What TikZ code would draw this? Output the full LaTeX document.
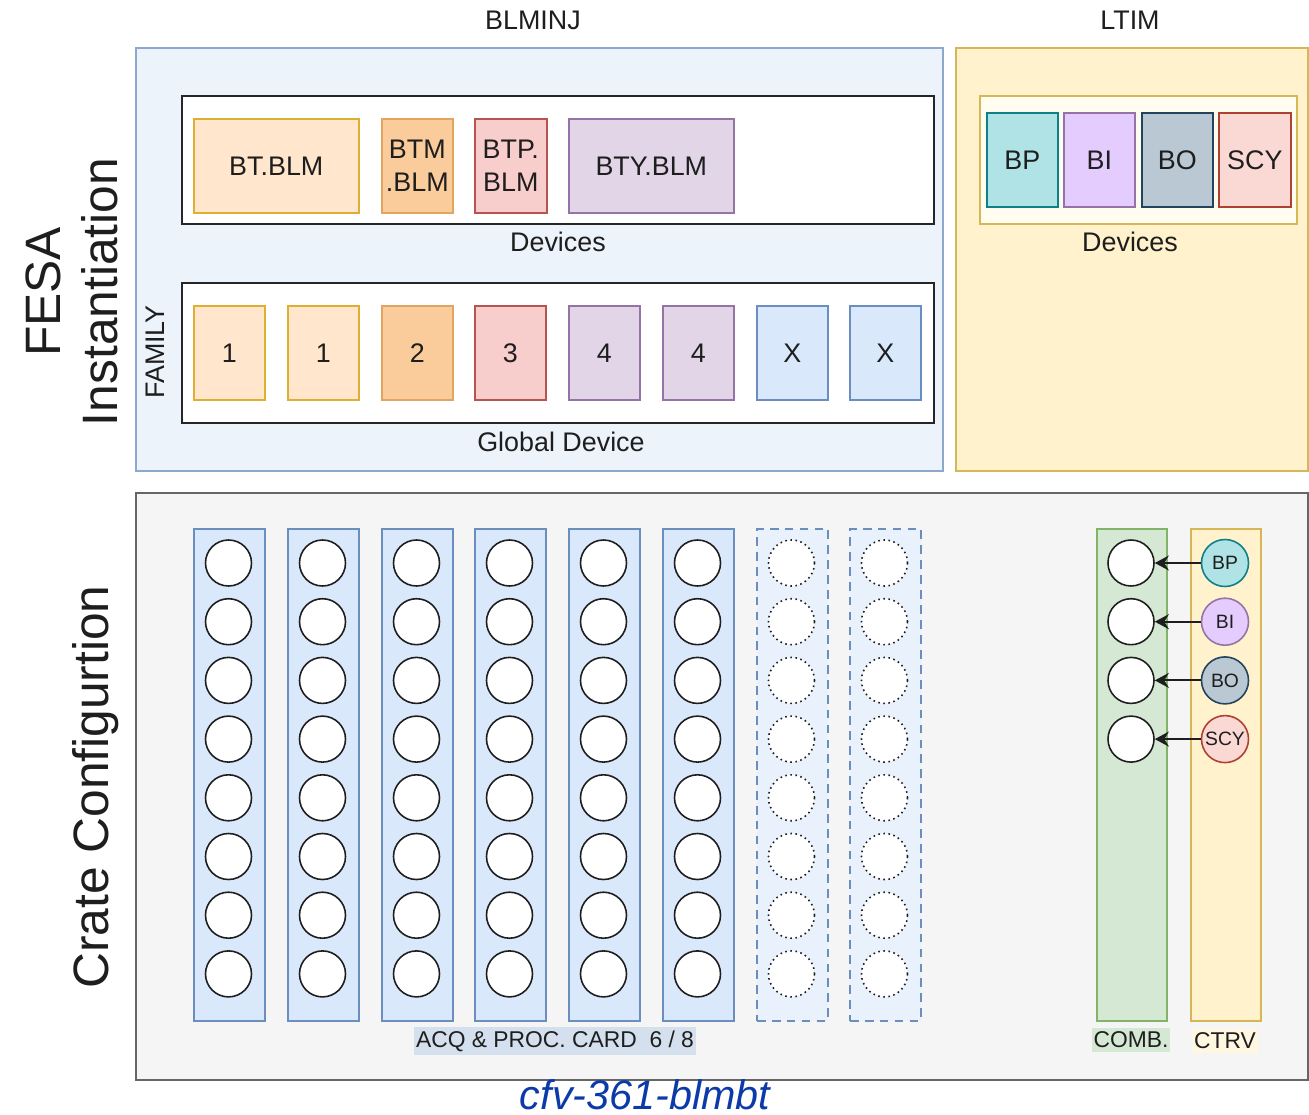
\documentclass[tikz,border=0pt]{standalone}
\usepackage{fontspec}
\setmainfont{Liberation Sans}
\definecolor{ink}{RGB}{30, 30, 30}
\definecolor{injfill}{RGB}{237, 243, 251}
\definecolor{injdraw}{RGB}{140, 168, 205}
\definecolor{ltimfill}{RGB}{255, 242, 204}
\definecolor{ltimdraw}{RGB}{214, 182, 86}
\definecolor{ltimbox}{RGB}{255, 252, 240}
\definecolor{cratefill}{RGB}{245, 245, 245}
\definecolor{cratedraw}{RGB}{102, 102, 102}
\definecolor{orangelt}{RGB}{255, 230, 204}
\definecolor{orangedr}{RGB}{215, 155, 0}
\definecolor{orangemd}{RGB}{250, 203, 155}
\definecolor{orangeln}{RGB}{225, 165, 95}
\definecolor{redfill}{RGB}{248, 206, 204}
\definecolor{reddraw}{RGB}{184, 84, 80}
\definecolor{purpfill}{RGB}{225, 213, 231}
\definecolor{purpdraw}{RGB}{150, 115, 166}
\definecolor{bluefill}{RGB}{218, 232, 252}
\definecolor{bluedraw}{RGB}{108, 142, 191}
\definecolor{greenfill}{RGB}{213, 232, 212}
\definecolor{greendraw}{RGB}{130, 179, 102}
\definecolor{bpfill}{RGB}{176, 227, 230}
\definecolor{bpdraw}{RGB}{14, 128, 136}
\definecolor{bifill}{RGB}{229, 204, 255}
\definecolor{bidraw}{RGB}{150, 115, 166}
\definecolor{bofill}{RGB}{186, 200, 211}
\definecolor{bodraw}{RGB}{35, 68, 93}
\definecolor{scyfill}{RGB}{250, 217, 213}
\definecolor{scydraw}{RGB}{174, 65, 50}
\definecolor{acqbg}{RGB}{212, 224, 238}
\definecolor{cfvblue}{RGB}{12, 58, 168}
\usepackage{tikz}
\usetikzlibrary{arrows.meta, positioning}
\newcommand{\px}{0.02cm}
\newcommand{\lblfont}{\fontsize{15.3}{18.7}\selectfont}
\newcommand{\capfont}{\fontsize{13}{15}\selectfont}
\newcommand{\sidefont}{\fontsize{28.3}{32}\selectfont}
\newcommand{\dotfont}{\fontsize{11}{12}\selectfont}
\tikzset{
  panel/.style={draw, anchor=north west, inner sep=0pt, line width=1.1pt},
  holder/.style={panel, fill=white, draw=black!85, line width=1.4pt, minimum width=752*\px},
  devnode/.style={draw, anchor=north west, inner sep=0pt, line width=0.9pt, minimum width=71*\px, minimum height=94*\px, font=\lblfont, text=ink, align=center},
  famA/.style={devnode, fill=orangelt, draw=orangedr!80},
  famB/.style={devnode, fill=orangemd, draw=orangeln},
  famC/.style={devnode, fill=redfill, draw=reddraw},
  famD/.style={devnode, fill=purpfill, draw=purpdraw},
  famX/.style={devnode, fill=bluefill, draw=bluedraw},
  card/.style={panel, fill=bluefill, draw=bluedraw, line width=0.9pt, minimum width=71*\px, minimum height=492*\px},
  sparecard/.style={card, fill=bluefill!60, dash pattern=on 5pt off 3.5pt},
  slot/.style={circle, draw=ink, fill=white, line width=0.9pt, minimum size=46*\px, inner sep=0pt},
  spareslot/.style={slot, dotted},
  tag/.style={font=\lblfont, text=ink},
  captag/.style={font=\capfont, text=ink, inner xsep=1pt, inner ysep=2pt},
  sidetag/.style={font=\sidefont, text=ink, rotate=90},
  timing/.style={circle, line width=0.9pt, minimum size=47*\px, inner sep=0pt, font=\dotfont, text=ink},
  feed/.style={-{Stealth[length=8pt, width=8.5pt]}, line width=1.2pt, ink},
}

\begin{document}
\begin{tikzpicture}[x=\px, y=-\px]
  \useasboundingbox (0,0) rectangle (1309,1115);
  \fill[white] (0,0) rectangle (1309,1115);

  \node[tag] (blminjlbl) at (533,20) {BLMINJ};
  \node[tag] (ltimlbl) at (1130,20) {LTIM};
  \node[sidetag] (fesa) at (43,292) {FESA};
  \node[sidetag] (instlbl) at (100,292) {Instantiation};
  \node[sidetag] (cratelbl) at (96,787) {Crate Configurtion};

  \node[panel, fill=injfill, draw=injdraw, minimum width=807*\px, minimum height=423*\px] (blminj) at (135,47) {};
  \node[panel, fill=ltimfill, draw=ltimdraw, minimum width=352*\px, minimum height=423*\px] (ltim) at (955,47) {};
  \node[panel, fill=cratefill, draw=cratedraw, minimum width=1172*\px, minimum height=587*\px] (crate) at (135,492) {};

  \node[holder, minimum height=128*\px] (devices) at (181,95) {};
  \node[tag] (deviceslbl) at (558,242) {Devices};
  \node[famA, minimum width=165*\px] (btblm) at (193,118) {BT.BLM};
  \node[famB] (btmblm) at (381,118) {BTM\\.BLM};
  \node[famC, minimum width=72*\px] (btpblm) at (474,118) {BTP.\\BLM};
  \node[famD, minimum width=165*\px] (btyblm) at (568,118) {BTY.BLM};

  \node[holder, minimum height=140*\px] (global) at (181,282) {};
  \node[tag] (globallbl) at (561,442) {Global Device};
  \node[tag, rotate=90] (family) at (155,352) {FAMILY};
  \foreach \xx/\fam/\txt [count=\i] in {193/famA/1, 287/famA/1, 381/famB/2, 474/famC/3, 568/famD/4, 662/famD/4, 756/famX/X, 849/famX/X}
    \node[\fam] (fam\i) at (\xx,305) {\txt};

  \node[panel, fill=ltimbox, draw=ltimdraw, line width=0.9pt, minimum width=317*\px, minimum height=128*\px] (ltimdev) at (979,95) {};
  \node[tag] (ltimdevlbl) at (1130,242) {Devices};
  \node[devnode, fill=bpfill, draw=bpdraw] (bp) at (986,112) {BP};
  \node[devnode, fill=bifill, draw=bidraw] (bi) at (1063,112) {BI};
  \node[devnode, fill=bofill, draw=bodraw] (bo) at (1141,112) {BO};
  \node[devnode, fill=scyfill, draw=scydraw, minimum width=72*\px] (scy) at (1218,112) {SCY};

  \foreach \xx [count=\c] in {193,287,381,474,568,662} {
    \node[card] (card\c) at (\xx,528) {};
    \foreach \k in {0,...,7}
      \node[slot] (slot\c-\k) at (\xx+35.5,563+58.7*\k) {};
  }
  \foreach \xx [count=\c] in {756,849} {
    \node[sparecard] (spare\c) at (\xx,528) {};
    \foreach \k in {0,...,7}
      \node[spareslot] (spareslot\c-\k) at (\xx+35.5,563+58.7*\k) {};
  }
  \node[captag, fill=acqbg] (acqlbl) at (555,1041) {ACQ \& PROC. CARD\ \ 6 / 8};

  \node[card, fill=greenfill, draw=greendraw, minimum width=70*\px] (comb) at (1096,528) {};
  \node[card, fill=ltimfill, draw=ltimdraw, minimum width=70*\px] (ctrv) at (1190,528) {};
  \node[captag, fill=greenfill] (comblbl) at (1131,1040) {COMB.};
  \node[captag, fill=ltimfill!60] (ctrvlbl) at (1225,1041) {CTRV};
  \foreach \txt/\fl/\dr [count=\k] in {BP/bpfill/bpdraw, BI/bifill/bidraw, BO/bofill/bodraw, SCY/scyfill/scydraw} {
    \node[slot] (comb\k) at (1131,563+58.7*\k-58.7) {};
    \node[timing, fill=\fl, draw=\dr] (ctrv\k) at (1225,563+58.7*\k-58.7) {\txt};
    \draw[feed] (ctrv\k) -- (comb\k);
  }

  \node[font=\fontsize{23.5}{26}\selectfont\itshape, text=cfvblue, inner sep=1pt] (cfv) at (645,1095) {cfv-361-blmbt};
\end{tikzpicture}
\end{document}
